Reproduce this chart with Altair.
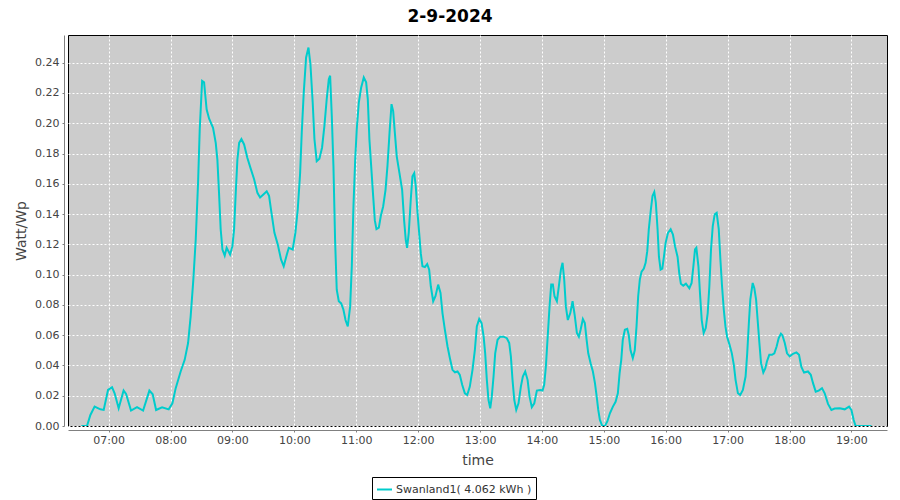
import altair as alt
import pandas as pd

# minutes after 07:00 and Watt/Wp values
minutes_after_7 = [
    -26.5, -21, -17.7, -13.6, -8, -4.8, -0.6, 3.3, 5.8, 9.7, 14.5, 16.9, 21.7, 27.5, 33.4, 39.5, 42.7, 46, 51.8, 58.2,
    61.8, 65, 69.8, 73.7, 77, 79.5, 82.1, 84.4, 86.7, 88.3, 90.6, 92.5, 95, 97.4, 101.2, 103.8, 105.4, 107, 108.6,
    110.3, 112.5, 114.4, 117.7, 120, 121.6, 123.2, 124.8, 126.5, 128.7, 131.3, 134.5, 137.7, 141, 144.2, 146.8, 150,
    153.2, 155.5, 157.8,
    160.7, 163.9, 167.1, 169.7, 172.6, 174.6, 178.4, 181, 183.3, 185.6, 187.2, 189.1, 191.4, 193.7, 195.6, 197.8,
    199.5, 201.7, 204.3, 206.9, 209.1, 211.4, 213.4, 214.7, 216.3, 217.9, 219.5, 221.1, 223.1, 225.4, 227.6, 229.6,
    231.8, 234.1, 235.7, 237.3, 239, 240.5, 242.5, 244.8, 247.3, 249.6, 251.2, 252.8,
    256.4, 258, 259.6, 261.9, 263.8, 266.1, 268.4, 270.3, 272.3, 274.2, 275.8, 277.4, 279.3, 281.9, 284.5, 286.4,
    288, 289.3, 290.9, 292.9, 294.5, 296.2, 297.7, 299.4, 301, 302.6, 304.2, 306.5, 308.8, 310.7, 312.3, 314.6,
    316.8, 319.4, 321.7, 323.6, 325.9, 328.5, 330.8, 333.3, 335.7, 338.2, 340.4, 342.7, 345.3, 347.6, 350.1, 352.7, 355,
    356.9, 359.2, 361.5, 363.5, 365, 366.6, 368.2, 369.9, 371.4, 373.1, 374.7, 377, 379.6, 382.8, 386, 388.3, 389.9,
    391.5, 393.2, 395.1, 397.3, 399.6, 401.5, 403.8, 406.1, 408, 410.2, 412.6, 415.1, 418.4, 420.6, 422.2, 423.8,
    425.4, 427.4, 429, 430.6, 432.2, 434.5, 436.4, 438.4, 440, 441.6, 443.2, 445.1, 447.5, 449.7, 451.7, 453.9,
    455.8, 457.5, 459.7, 461.6, 463.3, 464.9, 467.2, 469.4, 471.4, 473.1, 474.6, 476.2, 478.5, 481, 483.4, 485.9,
    488.8, 491.4, 493.6, 495.3, 496.9, 498.4, 500.4, 502.7, 504.2, 505.9, 508.1, 510, 511.7, 513.3, 514.9, 516.6,
    518.8, 520.5, 522.1, 523.6, 525.6, 527.2, 528.9, 530.4, 532.1, 533.4, 535, 536.7, 538.3, 539.9, 542.2, 544.8,
    547, 549,
    551.5, 553.1, 554.7, 557, 559.6, 562.9, 565.1, 566.8, 568.4, 569.7, 571.7, 573.2, 574.9, 576.8, 578.8, 580.7,
    582.3, 583.9, 585.6, 587.5, 589.4, 591.4, 593, 594.6, 596.3, 597.9, 599.5, 601.9, 604.1, 606.1, 607.7, 610,
    612.2, 614.8, 617.4, 619, 620.6, 622, 624.3, 625.9, 627.6, 629.1, 630.8, 632.4, 634.6, 636.5, 638.1, 640.4,
    643, 645.3, 647.5, 649.5, 651.7,
    653.1, 655.4, 657.6, 660.2, 663.4, 666.7, 669.2, 671.5, 674.1, 677.9, 680.6, 682.8, 685.4, 688.3, 691.5, 694.1,
    697.3, 700.6, 703.8, 708.7, 713.5, 717.7, 720, 722.2, 724.1, 739.4,
]

watt_per_wp = [
    0, 0, 0.0073, 0.0128, 0.011, 0.0106, 0.0238, 0.0256, 0.0216, 0.0117, 0.0234, 0.0212, 0.0102, 0.0124, 0.0102,
    0.0234, 0.021, 0.0106, 0.0124, 0.011,
    0.015, 0.025, 0.036, 0.0437, 0.0548, 0.0724, 0.0967, 0.123, 0.161, 0.196, 0.228, 0.227, 0.209, 0.203, 0.197,
    0.187, 0.176, 0.154, 0.130, 0.1166, 0.1126, 0.1177, 0.1133, 0.1188, 0.130, 0.154, 0.176, 0.187, 0.1895, 0.186,
    0.177, 0.170, 0.163, 0.154, 0.151, 0.153, 0.155, 0.152, 0.141,
    0.1276, 0.12, 0.110, 0.1055, 0.113, 0.1177, 0.1166, 0.1276, 0.143, 0.167, 0.194, 0.220, 0.2435, 0.250, 0.239,
    0.2137, 0.1894, 0.175, 0.1766, 0.184, 0.198, 0.216, 0.229, 0.2314, 0.205, 0.172, 0.123, 0.090, 0.0824, 0.081,
    0.0768, 0.070, 0.0658, 0.079, 0.1055, 0.145, 0.176, 0.196, 0.2137, 0.2237, 0.2303, 0.227, 0.216, 0.189,
    0.152, 0.136, 0.130, 0.131, 0.1387, 0.145, 0.156, 0.172, 0.194, 0.2126, 0.208, 0.194, 0.178, 0.167, 0.156,
    0.136, 0.123, 0.1177, 0.1276, 0.150, 0.165, 0.167, 0.1585, 0.141, 0.1276, 0.114, 0.1055, 0.105, 0.107, 0.1033,
    0.0923, 0.0824, 0.0857, 0.0934, 0.0879, 0.0746, 0.0636, 0.0525, 0.0448, 0.0371, 0.0355, 0.036, 0.0338, 0.0272,
    0.0216, 0.0205, 0.026, 0.0371, 0.0503,
    0.0658, 0.0707, 0.068, 0.059, 0.048, 0.0305, 0.0172, 0.0117, 0.0194, 0.0327, 0.048, 0.057, 0.059, 0.059, 0.058,
    0.0548, 0.046, 0.0305, 0.0172, 0.0106, 0.015, 0.026, 0.0327, 0.036, 0.0305, 0.0194, 0.0124, 0.015, 0.0234,
    0.0238, 0.0234, 0.0272, 0.039, 0.057, 0.079, 0.0934, 0.0934, 0.0857, 0.0824, 0.0923, 0.1033, 0.1078, 0.0967,
    0.079, 0.070, 0.0746, 0.0824, 0.0735, 0.0614,
    0.059, 0.0636, 0.0707, 0.068, 0.057, 0.048, 0.0415, 0.036, 0.0283, 0.0194, 0.0106, 0.004, 0, 0, 0.003, 0.0084,
    0.0128, 0.016, 0.0216, 0.0349, 0.0437, 0.057, 0.0636, 0.0642, 0.060, 0.050, 0.0448, 0.050, 0.0658, 0.0857,
    0.0967, 0.102, 0.104, 0.1078, 0.1155, 0.130, 0.143, 0.152, 0.1546, 0.1475, 0.130, 0.112, 0.1033, 0.104, 0.112,
    0.121, 0.1276, 0.130, 0.1265, 0.1188,
    0.1117, 0.101, 0.094, 0.0927, 0.094, 0.091, 0.0945, 0.1055, 0.1166, 0.1177, 0.1055, 0.0879, 0.070, 0.0614,
    0.0647, 0.0746, 0.0923, 0.1166, 0.132, 0.1398, 0.1408, 0.130, 0.110, 0.0923, 0.0768, 0.0658, 0.059, 0.0536,
    0.048, 0.040, 0.0305, 0.0216, 0.0205, 0.0238, 0.0327, 0.048, 0.068, 0.0835, 0.0945, 0.091, 0.0835, 0.070,
    0.0548, 0.0415, 0.0353, 0.038, 0.0426, 0.047, 0.047, 0.048, 0.0525, 0.058, 0.061,
    0.060, 0.0548, 0.048, 0.046, 0.0477, 0.0486, 0.047, 0.039, 0.0353, 0.036, 0.0338, 0.0283, 0.0227, 0.0234,
    0.025, 0.0216, 0.0146, 0.0106, 0.0115, 0.0117, 0.011, 0.0128, 0.0106, 0.004, 0, 0,
]

series_name = "Swanland1( 4.062 kWh )"
chart_title = "2-9-2024"
hour_ticks = list(range(7, 20))
y_ticks = [round(0.02 * i, 2) for i in range(13)]


def stamp(m):
    s = int(round((420 + m) * 60))
    return f"2024-09-02T{s // 3600:02d}:{(s % 3600) // 60:02d}:{s % 60:02d}"


df = pd.DataFrame({
    "time": [stamp(m) for m in minutes_after_7],
    "value": watt_per_wp,
    "series": series_name,
})

FONT = "DejaVu Sans"
GRAY = "#808080"
TEXT = "#444444"

x_axis = alt.Axis(
    values=[alt.DateTime(year=2024, month=9, date=2, hours=h) for h in hour_ticks],
    format="%H:%M", title="time", grid=True, gridColor="white", gridDash=[2, 2], gridOpacity=1,
    domainColor=GRAY, tickColor=GRAY, tickSize=2, offset=4, labelFont=FONT, labelFontSize=11,
    labelColor=TEXT, labelPadding=2, labelFlush=False, titleFont=FONT, titleFontSize=14,
    titleFontWeight="normal", titleColor=TEXT, titleY=30, titleBaseline="middle",
)
y_axis = alt.Axis(
    values=y_ticks, format=".2f", title="Watt/Wp", grid=True, gridColor="white", gridDash=[2, 2],
    gridOpacity=1, domainColor=GRAY, tickColor=GRAY, tickSize=2, offset=4, labelFont=FONT,
    labelFontSize=11, labelColor=TEXT, labelPadding=3, labelFlush=False, titleFont=FONT,
    titleFontSize=14, titleFontWeight="normal", titleColor=TEXT, titleX=-43, titleBaseline="middle",
)

line = alt.Chart(df).mark_line(strokeWidth=2, clip=True).encode(
    x=alt.X("time:T", axis=x_axis, scale=alt.Scale(domain=[
        alt.DateTime(year=2024, month=9, date=2, hours=6, minutes=20, seconds=36),
        alt.DateTime(year=2024, month=9, date=2, hours=19, minutes=34, seconds=30),
    ])),
    y=alt.Y("value:Q", axis=y_axis, scale=alt.Scale(domain=[0, 0.2583], nice=False, zero=False)),
    color=alt.Color("series:N", scale=alt.Scale(domain=[series_name], range=["#00CCCC"]),
                    legend=alt.Legend(title=None, orient="none", legendX=304, legendY=442,
                                      strokeColor="black", fillColor="white", padding=4,
                                      symbolType="stroke", symbolSize=225, symbolStrokeWidth=2,
                                      labelFont=FONT, labelFontSize=11, labelColor="#333333",
                                      labelOffset=3, cornerRadius=0)),
)

title_text = alt.Chart(alt.Data(values=[{"t": chart_title}])).mark_text(
    font=FONT, fontSize=17, fontWeight="bold", color="black", align="center", baseline="alphabetic",
).encode(
    text="t:N",
    x=alt.value(382),
    y=alt.value(-13),
)

chart = alt.layer(line, title_text).properties(
    width=819, height=391,
    autosize=alt.AutoSizeParams(type="none"),
    padding={"left": 60, "top": 27, "right": 5, "bottom": 75},
).configure(
    background="white",
).configure_view(
    stroke="black", strokeWidth=1, fill="#CCCCCC",
)

chart.save("out.html", embed_options={"renderer": "svg", "actions": False})
